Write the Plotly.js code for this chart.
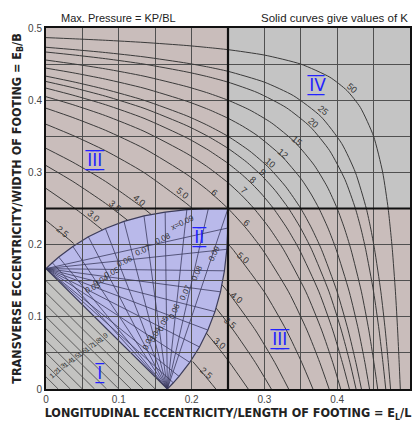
<!DOCTYPE html>
<html><head><meta charset="utf-8">
<script src="https://cdn.plot.ly/plotly-3.0.1.min.js"></script>
<style>html,body{margin:0;padding:0;background:#fff}#chart{width:417px;height:424px}</style>
</head><body><div id="chart"></div>
<script>
// ---- data (a = eL/L, b = eB/B) ----
const kLevels = ['2.5','3.0','3.5','4.0','5.0','6','7','8','9','10','12','15','20','25','50'];
const kCurves = [
 [[0,.2333],[.0175,.219],[.038,.2016],null,[.2016,.038],[.219,.0175],[.2333,0]],
 [[0,.2778],[.0369,.2521],[.0582,.2359],[.0773,.2205],null,[.2205,.0773],[.2359,.0582],[.2521,.0369],[.2778,0]],
 [[0,.3095],[.0369,.2875],[.0816,.2572],[.112,.2337],null,[.2337,.112],[.2572,.0816],[.2875,.0369],[.3095,0]],
 [[0,.3333],[.0369,.3141],[.0816,.2876],[.1346,.2498],[.1443,.2418],null,[.2418,.1443],[.2498,.1346],[.2876,.0816],[.3141,.0369],[.3333,0]],
 [[0,.3667],[.0369,.3512],[.0816,.3301],[.1346,.2998],[.1935,.2565],[.2022,.249],null,[.249,.2022],[.2565,.1935],[.2998,.1346],[.3301,.0816],[.3512,.0369],[.3667,0]],
 [[0,.3889],[.0369,.376],[.0816,.3584],[.1346,.3332],[.1935,.2971],[.223,.2746],[.25,.25],[.2746,.223],[.2971,.1935],[.3332,.1346],[.3584,.0816],[.376,.0369],[.3889,0]],
 [[0,.4048],[.0369,.3938],[.0816,.3786],[.1346,.357],[.1935,.3261],[.223,.3068],[.25,.2857],[.2685,.2685],[.2857,.25],[.3068,.223],[.3261,.1935],[.357,.1346],[.3786,.0816],[.3938,.0369],[.4048,0]],
 [[0,.4167],[.0369,.407],[.0816,.3938],[.1346,.3749],[.1935,.3478],[.223,.3309],[.25,.3125],[.27,.2962],[.2835,.2835],[.2962,.27],[.3125,.25],[.3309,.223],[.3478,.1935],[.3749,.1346],[.3938,.0816],[.407,.0369],[.4167,0]],
 [[0,.4259],[.0369,.4174],[.0816,.4056],[.1346,.3888],[.1935,.3647],[.223,.3497],[.25,.3333],[.275,.3148],[.2959,.2959],[.3148,.275],[.3333,.25],[.3497,.223],[.3647,.1935],[.3888,.1346],[.4056,.0816],[.4174,.0369],[.4259,0]],
 [[0,.4333],[.0369,.4256],[.0816,.415],[.1346,.3999],[.1935,.3783],[.223,.3647],[.25,.35],[.28,.3295],[.3064,.3064],[.3295,.28],[.35,.25],[.3647,.223],[.3783,.1935],[.3999,.1346],[.415,.0816],[.4256,.0369],[.4333,0]],
 [[0,.4444],[.0369,.438],[.0816,.4292],[.1346,.4166],[.1935,.3985],[.223,.3873],[.25,.375],[.27,.3641],[.29,.3512],[.3232,.3232],[.3512,.29],[.3641,.27],[.375,.25],[.3873,.223],[.3985,.1935],[.4166,.1346],[.4292,.0816],[.438,.0369],[.4444,0]],
 [[0,.4556],[.0369,.4504],[.0816,.4434],[.1346,.4333],[.1935,.4188],[.223,.4098],[.25,.4],[.28,.3864],[.31,.3684],[.3419,.3419],[.3684,.31],[.3864,.28],[.4,.25],[.4098,.223],[.4188,.1935],[.4333,.1346],[.4434,.0816],[.4504,.0369],[.4556,0]],
 [[0,.4667],[.0369,.4628],[.0816,.4575],[.1346,.45],[.1935,.4391],[.223,.4324],[.25,.425],[.29,.4107],[.33,.3897],[.3631,.3631],[.3897,.33],[.4107,.29],[.425,.25],[.4324,.223],[.4391,.1935],[.45,.1346],[.4575,.0816],[.4628,.0369],[.4667,0]],
 [[0,.4733],[.0369,.4702],[.0816,.466],[.1346,.46],[.1935,.4513],[.223,.4459],[.25,.44],[.3,.425],[.34,.4062],[.3775,.3775],[.4062,.34],[.425,.3],[.44,.25],[.4459,.223],[.4513,.1935],[.46,.1346],[.466,.0816],[.4702,.0369],[.4733,0]],
 [[0,.4867],[.0369,.4851],[.0816,.483],[.1346,.48],[.1935,.4757],[.223,.4729],[.25,.47],[.3,.4625],[.35,.45],[.39,.4318],[.4134,.4134],[.4318,.39],[.45,.35],[.4625,.3],[.47,.25],[.4729,.223],[.4757,.1935],[.48,.1346],[.483,.0816],[.4851,.0369],[.4867,0]]
];
// K labels
const kLabelText = ['2.5','3.0','3.5','4.0','5.0','6','7','8','9','10','12','15','20','25','50','6','5.0','4.0','3.5','3.0','2.5'];
const kLabelA = [.023,.065,.095,.129,.187,.232,.271,.284,.297,.308,.326,.345,.367,.38,.42,.276,.271,.262,.253,.239,.22];
const kLabelB = [.217,.239,.254,.261,.271,.272,.275,.289,.300,.3125,.326,.344,.368,.386,.417,.23,.182,.126,.092,.0625,.022];

// region outlines
const region1A = [0,.1667,0];
const region1B = [0,0,.1667];
const region2A = [0,.0086,.0175,.0369,.0582,.0816,.1071,.1346,.1637,.1935,.223,.25,.2498,.2484,.2451,.2397,.2321,.2224,.2108,.1975,.1827,.1749,.1667];
const region2B = [.1667,.1749,.1827,.1975,.2108,.2224,.2321,.2397,.2451,.2484,.2498,.25,.223,.1935,.1637,.1346,.1071,.0816,.0582,.0369,.0175,.0086,0];
const region4A = [.25,.5,.5,.25];
const region4B = [.25,.25,.5,.5];
const regionSplit = 0.25;

// region I hatch lines (eL/L + eB/B = const)
const hatchSums = [.0167,.0333,.05,.0667,.0833,.1,.1167,.1333,.15];
const hatchText = ['1.2','1.3','1.4','1.5','1.6','1.7','1.8','1.9'];
const hatchLabelA = [.0112,.0208,.0304,.0399,.0494,.059,.0684,.078];
const hatchLabelB = [.022,.0292,.0364,.0435,.0506,.0578,.0649,.072];

// region II fan lines
const leftVertex = [0,.1667];
const bottomVertex = [.1667,0];
const fanTopA = [.0086,.0175,.0369,.0582,.0816,.1071,.1346,.1637,.1935,.223,.25];
const fanTopB = [.1749,.1827,.1975,.2108,.2224,.2321,.2397,.2451,.2484,.2498,.25];
const fanRightA = [.1749,.1827,.1975,.2108,.2224,.2321,.2397,.2451,.2484,.2498];
const fanRightB = [.0086,.0175,.0369,.0582,.0816,.1071,.1346,.1637,.1935,.223];
const r2LabelText = ['x=0.09','0.08','0.07','0.06','0.05','0.04','0.03'];
const r2LabelA = [.188,.161,.133,.108,.091,.076,.065];
const r2LabelB = [.231,.208,.192,.176,.161,.15,.14];
const r2bLabelText = ['0.09','0.08','0.07','0.06','0.05','0.04','0.03'];
const r2bLabelA = [.231,.208,.192,.176,.161,.15,.14];
const r2bLabelB = [.188,.161,.133,.108,.091,.076,.065];

// region numerals (barred Roman numerals)
const numeralText = ['I','II','III','III','IV'];
const numeralA = [.074,.2115,.067,.321,.372];
const numeralB = [.022,.21,.317,.069,.421];

// ---- build ----
const traces = [];
const hx=[],hy=[];
hatchSums.forEach(c=>{hx.push(0,c,null);hy.push(c,0,null);});
traces.push({x:hx,y:hy,mode:'lines',line:{color:'#505050',width:0.9},hoverinfo:'skip'});

const fx=[],fy=[];
fanTopA.forEach((a,i)=>{fx.push(bottomVertex[0],a,null);fy.push(bottomVertex[1],fanTopB[i],null);});
fanRightA.forEach((a,i)=>{fx.push(leftVertex[0],a,null);fy.push(leftVertex[1],fanRightB[i],null);});
traces.push({x:fx,y:fy,mode:'lines',line:{color:'#3b3b5e',width:0.8},hoverinfo:'skip'});

kCurves.forEach((pts,i)=>{
  traces.push({
    x:pts.map(p=>p?p[0]:null), y:pts.map(p=>p?p[1]:null),
    mode:'lines', name:'K='+kLevels[i], connectgaps:false,
    line:{color:'#3a3a3a',width:1,shape:'spline',smoothing:0.6}, hoverinfo:'skip'
  });
});

function pathFrom(as,bs){return 'M'+as.map((a,i)=>a+','+bs[i]).join('L')+'Z';}
const shapes = [
  {type:'path',path:pathFrom(region4A,region4B),xref:'x',yref:'y',fillcolor:'#c4c4c4',line:{width:0},layer:'below'},
  {type:'path',path:pathFrom(region1A,region1B),xref:'x',yref:'y',fillcolor:'#c3c3c1',line:{width:0},layer:'below'},
  {type:'path',path:pathFrom(region2A,region2B),xref:'x',yref:'y',fillcolor:'#b9b9ea',line:{color:'#3c3c5a',width:1.2},layer:'below'},
  {type:'line',xref:'x',yref:'y',x0:regionSplit,x1:regionSplit,y0:0,y1:0.5,line:{color:'#111',width:2.2},layer:'above'},
  {type:'line',xref:'x',yref:'y',x0:0,x1:0.5,y0:regionSplit,y1:regionSplit,line:{color:'#111',width:2.2},layer:'above'}
];

function barred(s){return s.split('').map(ch=>ch+'\u0305\u0332').join('');}

const ann = [];
kLabelText.forEach((t,i)=>ann.push({x:kLabelA[i],y:kLabelB[i],text:t,showarrow:false,textangle:40,font:{family:'Liberation Sans',size:9,color:'#333'}}));
hatchText.forEach((t,i)=>ann.push({x:hatchLabelA[i],y:hatchLabelB[i],text:t,showarrow:false,textangle:-40,font:{family:'Liberation Sans',size:7,color:'#333'}}));
r2LabelText.forEach((t,i)=>ann.push({x:r2LabelA[i],y:r2LabelB[i],text:t,showarrow:false,textangle:-25,font:{family:'Liberation Sans',size:8,color:'#333'}}));
r2bLabelText.forEach((t,i)=>ann.push({x:r2bLabelA[i],y:r2bLabelB[i],text:t,showarrow:false,textangle:-65,font:{family:'Liberation Sans',size:8,color:'#333'}}));
numeralText.forEach((t,i)=>ann.push({x:numeralA[i],y:numeralB[i],text:barred(t),showarrow:false,font:{family:'DejaVu Sans',size:17,color:'#2222ff'}}));
ann.push({xref:'paper',yref:'paper',x:0.035,y:1.028,xanchor:'left',yanchor:'middle',text:'Max. Pressure = KP/BL',showarrow:false,font:{family:'Liberation Sans',size:11,color:'#222'}});
ann.push({xref:'paper',yref:'paper',x:1,y:1.028,xanchor:'right',yanchor:'middle',text:'Solid curves give values of K',showarrow:false,font:{family:'Liberation Sans',size:11.5,color:'#222'}});

const titleFont = {family:'Liberation Sans Narrow, DejaVu Sans Condensed, Liberation Sans',size:12.5,color:'#222',weight:'bold'};
const layout = {
  width:417,height:424,margin:{l:46,r:7,t:28,b:35},
  paper_bgcolor:'#ffffff',plot_bgcolor:'#c9bdbb',showlegend:false,
  xaxis:{range:[0,0.5],tick0:0,dtick:0.1,showgrid:true,gridcolor:'#505050',gridwidth:1,
    minor:{dtick:0.05,showgrid:true,gridcolor:'#505050',gridwidth:1},
    zeroline:false,showline:true,linecolor:'#111',linewidth:2,mirror:true,ticks:'',
    tickfont:{family:'Liberation Sans',size:10,color:'#444'},fixedrange:true,
    title:{text:'<b>LONGITUDINAL ECCENTRICITY/LENGTH OF FOOTING = E<sub>L</sub>/L</b>',font:titleFont,standoff:4}},
  yaxis:{range:[0,0.5],tick0:0,dtick:0.1,showgrid:true,gridcolor:'#505050',gridwidth:1,
    minor:{dtick:0.05,showgrid:true,gridcolor:'#505050',gridwidth:1},
    zeroline:false,showline:true,linecolor:'#111',linewidth:2,mirror:true,ticks:'',
    tickfont:{family:'Liberation Sans',size:10,color:'#444'},fixedrange:true,
    title:{text:'<b>TRANSVERSE ECCENTRICITY/WIDTH OF FOOTING = E<sub>B</sub>/B</b>',font:titleFont,standoff:4}},
  shapes:shapes,annotations:ann
};
Plotly.newPlot('chart',traces,layout,{staticPlot:true,displayModeBar:false});
</script></body></html>
